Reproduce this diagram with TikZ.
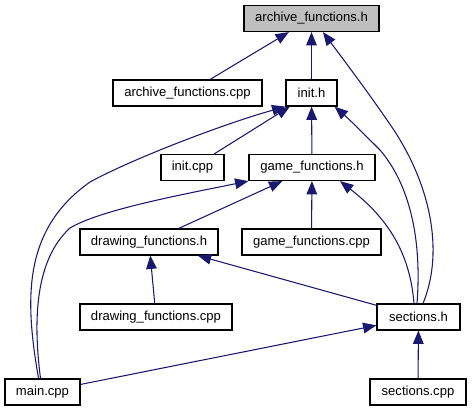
\documentclass[tikz,border=0pt]{standalone}
\usepackage{fontspec}
\setmainfont{Liberation Sans}
\usetikzlibrary{arrows.meta,calc}
\definecolor{edgeblue}{HTML}{191970}
\definecolor{rootgray}{HTML}{BFBFBF}
\tikzset{
  filebox/.style={draw=black,line width=0.9pt,fill=white,inner sep=0pt,minimum height=19.5pt,font=\fontsize{9.8}{12}\selectfont},
  rootbox/.style={filebox,fill=rootgray},
  edge/.style={draw=edgeblue,line width=0.8pt,-{Triangle[length=10pt,width=8pt]}},
}
\begin{document}
\begin{tikzpicture}[x=0.75pt,y=-0.75pt]
\useasboundingbox (0,0) rectangle (472,411);
\node[rootbox,minimum width=101.25pt] (archive_h) at (311.5,18.5) {archive\_functions.h};
\node[filebox,minimum width=111.75pt] (archive_cpp) at (187.5,93) {archive\_functions.cpp};
\node[filebox,minimum width=38.25pt] (init_h) at (311.5,93) {init.h};
\node[filebox,minimum width=47.25pt] (init_cpp) at (192.5,167.5) {init.cpp};
\node[filebox,minimum width=94.5pt] (game_h) at (312,167.5) {game\_functions.h};
\node[filebox,minimum width=103.5pt] (drawing_h) at (149,242) {drawing\_functions.h};
\node[filebox,minimum width=104.25pt] (game_cpp) at (311.5,242) {game\_functions.cpp};
\node[filebox,minimum width=114pt] (drawing_cpp) at (156,317) {drawing\_functions.cpp};
\node[filebox,minimum width=62.25pt] (sections_h) at (418.5,317) {sections.h};
\node[filebox,minimum width=56.25pt] (main_cpp) at (42.5,392) {main.cpp};
\node[filebox,minimum width=72pt] (sections_cpp) at (418,392) {sections.cpp};

% straight edges
\draw[edge] (archive_cpp) -- (archive_h);
\draw[edge] (init_h) -- (archive_h);
\draw[edge] (init_cpp) -- (init_h);
\draw[edge] (game_h) -- (init_h);
\draw[edge] (drawing_h) -- (game_h);
\draw[edge] (game_cpp) -- (game_h);
\draw[edge] (drawing_cpp) -- (drawing_h);
\draw[edge] (sections_h) -- (drawing_h);
\draw[edge] (main_cpp) -- (sections_h);
\draw[edge] (sections_cpp) -- (sections_h);

% curved edges
\draw[edge] ($(main_cpp.north)+(-4,0)$) .. controls (25,300) and (22,230) .. (90,182)
  .. controls (130,160) and (220,125) .. (init_h.south west);
\draw[edge] ($(main_cpp.north)+(-2,0)$) .. controls (33,320) and (35,260) .. (70,228)
  .. controls (100,210) and (180,195) .. (game_h.south west);
\draw[edge] ($(sections_h.north)+(4.5,0)$) .. controls (445,250) and (430,180) .. (387,120)
  .. controls (365,88) and (340,55) .. ($(archive_h.south)+(11.5,0)$);
\draw[edge] ($(sections_h.north)+(-1.5,0)$) .. controls (422,240) and (410,185) .. (380,150)
  .. controls (365,135) and (350,120) .. ($(init_h.south east)+(-3,0)$);
\draw[edge] ($(sections_h.north)+(-4.5,0)$) .. controls (410,255) and (390,220) .. ($(game_h.south)+(28,0)$);
\end{tikzpicture}
\end{document}
